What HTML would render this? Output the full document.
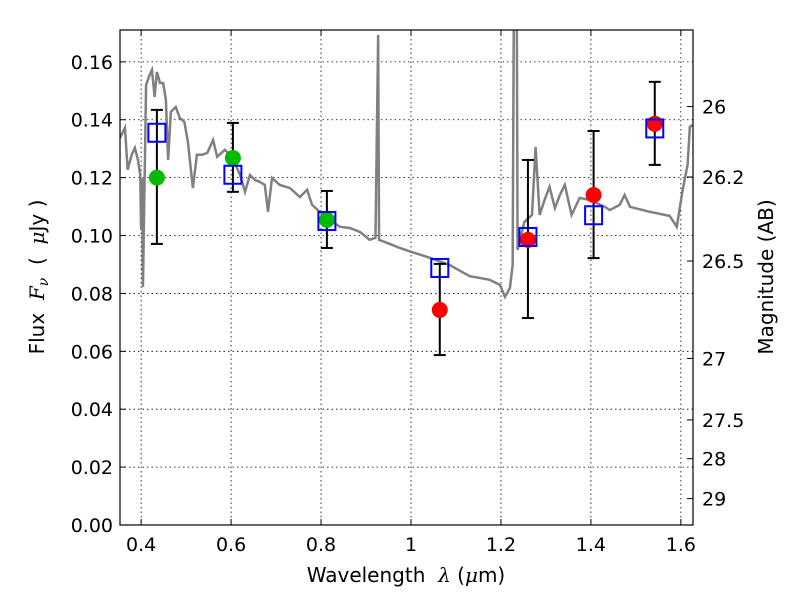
<!DOCTYPE html>
<html><head><meta charset="utf-8"><style>
body{margin:0;background:#fff;}
svg text{font-family:"DejaVu Sans","Liberation Sans",sans-serif;}
</style></head><body>
<svg id="chart" width="800" height="600" xmlns="http://www.w3.org/2000/svg"></svg>
<script>
const specWave=[0.353,0.364,0.370,0.379,0.386,0.393,0.398,0.400,0.402,0.404,0.411,0.419,0.424,0.430,0.435,0.442,0.449,0.455,0.460,0.466,0.477,0.486,0.496,0.504,0.515,0.524,0.535,0.547,0.560,0.569,0.586,0.602,0.620,0.631,0.642,0.653,0.664,0.675,0.682,0.691,0.708,0.731,0.753,0.769,0.780,0.797,0.820,0.842,0.864,0.887,0.908,0.921,0.927,0.929,0.953,0.975,1.002,1.042,1.086,1.130,1.175,1.198,1.209,1.220,1.226,1.229,1.235,1.237,1.252,1.269,1.277,1.286,1.297,1.308,1.320,1.331,1.342,1.357,1.375,1.397,1.431,1.442,1.464,1.475,1.487,1.531,1.575,1.591,1.604,1.615,1.620,1.626];
const specFlux=[0.1337,0.1372,0.1227,0.1279,0.1303,0.1261,0.1209,0.1019,0.1199,0.0822,0.152,0.1555,0.1572,0.1479,0.1565,0.1527,0.1527,0.1469,0.1261,0.1427,0.1444,0.1406,0.1393,0.1323,0.1164,0.1279,0.1279,0.1285,0.1330,0.1272,0.1296,0.1272,0.1209,0.1151,0.1209,0.1192,0.1185,0.1175,0.1082,0.1199,0.1175,0.1164,0.1133,0.1158,0.1106,0.1082,0.1054,0.1030,0.1026,0.1012,0.0985,0.0992,0.1693,0.0985,0.0971,0.0957,0.0943,0.0923,0.0898,0.0860,0.0847,0.0829,0.0788,0.0819,0.0898,0.19,0.19,0.095,0.1047,0.1071,0.1306,0.1071,0.1123,0.1168,0.1095,0.1140,0.1175,0.1071,0.1130,0.1123,0.1099,0.1088,0.1106,0.1140,0.1099,0.1082,0.1068,0.1030,0.1158,0.1244,0.1375,0.1382];
const bandWave=[0.435,0.604,0.813,1.064,1.260,1.406,1.542];
const modelFlux=[0.1355,0.121,0.105,0.0888,0.0995,0.107,0.137];
const obsFlux=[0.120,0.1268,0.1054,0.0743,0.0985,0.114,0.1386];
const errHigh=[0.1434,0.1389,0.1154,0.0902,0.1261,0.1361,0.1531];
const errLow=[0.0971,0.1151,0.0957,0.0587,0.0715,0.0922,0.1244];
const obsColor=['#00bb00','#00bb00','#00bb00','#ff0000','#ff0000','#ff0000','#ff0000'];
const xTicks=[0.4,0.6,0.8,1.0,1.2,1.4,1.6];
const xTickLabels=['0.4','0.6','0.8','1','1.2','1.4','1.6'];
const yTicks=[0,0.02,0.04,0.06,0.08,0.10,0.12,0.14,0.16];
const yTickLabels=['0.00','0.02','0.04','0.06','0.08','0.10','0.12','0.14','0.16'];
const magTicks=[26,26.2,26.5,27,27.5,28,29];
const magTickLabels=['26','26.2','26.5','27','27.5','28','29'];

const L=120,R=693,T=30,B=525,X0=0.353,X1=1.627,Y0=0,Y1=0.171;
const sx=v=>L+(v-X0)/(X1-X0)*(R-L);
const sy=v=>B-(v-Y0)/(Y1-Y0)*(B-T);
const NS='http://www.w3.org/2000/svg';
const svg=document.getElementById('chart');
function mk(tag,attrs,parent){const e=document.createElementNS(NS,tag);for(const k in attrs)e.setAttribute(k,attrs[k]);(parent||svg).appendChild(e);return e;}

const defs=mk('defs',{});
const cp=mk('clipPath',{id:'clip'},defs);mk('rect',{x:L,y:T,width:R-L,height:B-T},cp);

const grid=mk('g',{});


xTicks.forEach(v=>{if(v>X0&&v<X1){mk('line',{x1:sx(v),x2:sx(v),y1:T,y2:B,stroke:'#000','stroke-width':0.8,'stroke-dasharray':'1.5,3'},grid);}});
yTicks.forEach(v=>{if(v>Y0){mk('line',{x1:L,x2:R,y1:sy(v),y2:sy(v),stroke:'#000','stroke-width':0.8,'stroke-dasharray':'1.5,3'},grid);}});

const spec=mk('polyline',{points:specWave.map((w,i)=>sx(w)+','+sy(specFlux[i])).join(' '),fill:'none',stroke:'#808080','stroke-width':2.5,'clip-path':'url(#clip)'});



bandWave.forEach((w,i)=>{
  const g=mk('g',{});
  
  
  const x=sx(w);
  mk('line',{x1:x,x2:x,y1:sy(errHigh[i]),y2:sy(errLow[i]),stroke:'#000','stroke-width':2},g);
  mk('line',{x1:x-6,x2:x+6,y1:sy(errHigh[i]),y2:sy(errHigh[i]),stroke:'#000','stroke-width':2},g);
  mk('line',{x1:x-6,x2:x+6,y1:sy(errLow[i]),y2:sy(errLow[i]),stroke:'#000','stroke-width':2},g);
  mk('circle',{cx:x,cy:sy(obsFlux[i]),r:8,fill:obsColor[i]},g);
  mk('rect',{x:x-8.5,y:sy(modelFlux[i])-9,width:17,height:18,fill:'none',stroke:'#0000ff','stroke-width':2},g);
});

const frame=mk('rect',{x:L,y:T,width:R-L,height:B-T,fill:'none',stroke:'#000','stroke-width':1.2});



const xa=mk('g',{});


xTicks.forEach((v,i)=>{const x=sx(v);
  mk('line',{x1:x,x2:x,y1:B,y2:B-6,stroke:'#000'},xa);
  mk('line',{x1:x,x2:x,y1:T,y2:T+6,stroke:'#000'},xa);
  const t=mk('text',{x:x,y:B+26,'font-size':19,'text-anchor':'middle'},xa);t.textContent=xTickLabels[i];});
const ya=mk('g',{});


yTicks.forEach((v,i)=>{const y=sy(v);
  mk('line',{x1:L,x2:L+6,y1:y,y2:y,stroke:'#000'},ya);
  const t=mk('text',{x:L-7,y:y+7,'font-size':19,'text-anchor':'end'},ya);t.textContent=yTickLabels[i];});
const ma=mk('g',{});


magTicks.forEach((m,i)=>{const y=sy(Math.pow(10,(23.9-m)/2.5));
  mk('line',{x1:R,x2:R-6,y1:y,y2:y,stroke:'#000'},ma);
  const t=mk('text',{x:R+9,y:y+7,'font-size':19},ma);t.textContent=magTickLabels[i];});
</script>
<svg style="position:absolute;left:0;top:0" width="800" height="600" xmlns="http://www.w3.org/2000/svg">
<text x="406" y="582" font-size="20" text-anchor="middle" font-family="DejaVu Sans, sans-serif" xml:space="preserve">Wavelength  <tspan font-family="DejaVu Serif, serif" font-style="italic">λ</tspan> (<tspan font-family="DejaVu Serif, serif" font-style="italic">μ</tspan>m)</text>
<text transform="translate(44,277) rotate(-90)" font-size="20" text-anchor="middle" font-family="DejaVu Sans, sans-serif" xml:space="preserve">Flux  <tspan font-family="DejaVu Serif, serif" font-style="italic">F<tspan font-size="14" dy="4">ν</tspan></tspan><tspan dy="-4">  (  </tspan><tspan font-family="DejaVu Serif, serif" font-style="italic">μ</tspan>Jy )</text>
<text transform="translate(773,277) rotate(-90)" font-size="20" text-anchor="middle" font-family="DejaVu Sans, sans-serif">Magnitude (AB)</text>
</svg>
</body></html>
